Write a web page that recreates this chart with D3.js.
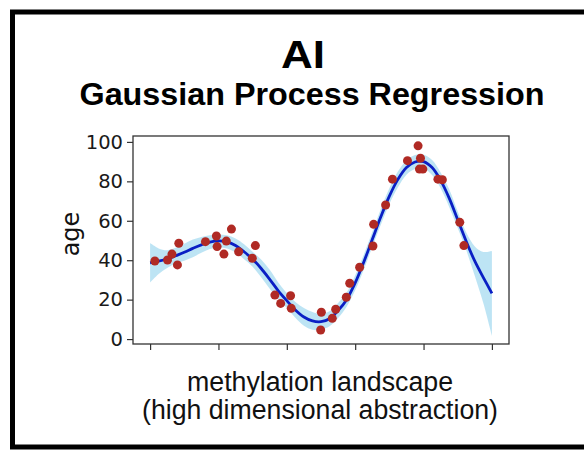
<!DOCTYPE html>
<html>
<head>
<meta charset="utf-8">
<script src="https://cdn.jsdelivr.net/npm/d3@7"></script>
<style>
  html, body { margin: 0; padding: 0; background: #ffffff; }
  svg { display: block; }
</style>
</head>
<body>
<svg id="chart" width="584" height="452"></svg>
<script>
// ---------- data ----------
const titleMain = "AI";
const titleSub = "Gaussian Process Regression";
const yLabel = "age";
const xLabelLines = ["methylation landscape", "(high dimensional abstraction)"];

const yTicks = [0, 20, 40, 60, 80, 100];
const xTicks = [0, 2, 4, 6, 8, 10];

// observed samples
const obsX = [0.14, 0.51, 0.64, 0.80, 0.84, 1.62, 1.94, 1.96, 2.16, 2.23, 2.38, 2.59, 2.99, 3.08,
              3.65, 3.82, 4.11, 4.13, 4.99, 5.01, 5.33, 5.43, 5.74, 5.84, 6.13,
              6.52, 6.54, 6.89, 7.09, 7.53, 7.84, 7.91, 7.88, 7.98, 8.42, 8.55, 9.06, 9.18];
const obsY = [39.6, 40.1, 43.1, 37.6, 48.6, 49.4, 52.3, 46.9, 43.1, 49.7, 55.8, 44.3, 41.0, 47.4,
              22.3, 18.1, 22.0, 15.6, 4.6, 13.6, 10.5, 15.1, 21.2, 28.3, 36.4,
              47.2, 58.2, 68.0, 81.1, 90.5, 98.0, 91.7, 86.2, 86.2, 81.1, 80.8, 59.2, 47.4];

// GP posterior (mean and confidence band) on a grid
const gridX = [0, 0.25, 0.5, 0.75, 1, 1.25, 1.5, 1.75, 2, 2.25, 2.5, 2.75, 3, 3.25, 3.5, 3.75, 4, 4.25, 4.5, 4.75,
               5, 5.25, 5.5, 5.75, 6, 6.25, 6.5, 6.75, 7, 7.25, 7.5, 7.75, 8, 8.25, 8.5, 8.75, 9, 9.25, 9.5, 9.75, 10];
const meanY = [38.7, 39.5, 40.6, 42.3, 44.0, 46.0, 47.8, 49.2, 49.8, 49.3, 47.5, 44.3, 40.5, 35.8, 30.3, 24.5, 19.5, 14.8, 11.2, 9.2,
               8.8, 10.3, 14.5, 20.0, 28.5, 39.0, 50.5, 62.0, 72.5, 81.0, 87.0, 89.8, 90.0, 87.0, 80.5, 71.5, 60.5, 49.5, 39.5, 31.2, 23.2];
const bandLo = [28.7, 33.0, 36.1, 38.3, 39.7, 41.5, 43.8, 45.7, 46.5, 46.0, 44.0, 40.5, 36.7, 31.3, 25.5, 20.3, 15.7, 10.8, 6.7, 4.7,
                4.8, 6.5, 10.7, 16.4, 24.7, 35.2, 46.7, 58.0, 68.5, 77.0, 83.4, 86.3, 86.5, 83.2, 76.5, 67.0, 56.3, 45.0, 32.0, 18.2, 1.7];
const bandHi = [48.7, 46.0, 45.1, 46.3, 48.3, 50.5, 51.8, 52.7, 53.1, 52.6, 51.0, 48.1, 44.3, 40.3, 35.1, 28.7, 23.3, 18.8, 15.7, 13.7,
                12.8, 14.1, 18.3, 23.6, 32.3, 42.8, 54.3, 66.0, 76.5, 85.0, 90.6, 93.3, 93.5, 90.8, 84.5, 76.0, 64.7, 54.0, 47.0, 44.2, 44.7];

// ---------- drawing ----------
const svg = d3.select("#chart");
const W = 584, H = 452;

// frame
svg.append("rect").attr("x", 0).attr("y", 0).attr("width", W).attr("height", H).attr("fill", "#ffffff");
svg.append("rect")
  .attr("x", 12.5).attr("y", 12).attr("width", 600).attr("height", 435)
  .attr("fill", "none").attr("stroke", "#000").attr("stroke-width", 5);

const plot = { left: 133, right: 509, top: 136, bottom: 344 };
const x = d3.scaleLinear().domain([-0.5, 10.5]).range([plot.left, plot.right]);
const y = d3.scaleLinear().domain([-2.5, 103]).range([plot.bottom, plot.top]);

const grid = gridX.map((gx, i) => ({ x: gx, m: meanY[i], lo: bandLo[i], hi: bandHi[i] }));

svg.append("clipPath").attr("id", "plotclip")
  .append("rect").attr("x", plot.left).attr("y", plot.top)
  .attr("width", plot.right - plot.left).attr("height", plot.bottom - plot.top);

const g = svg.append("g").attr("clip-path", "url(#plotclip)");

g.append("path")
  .datum(grid)
  .attr("fill", "#87ceeb")
  .attr("fill-opacity", 0.55)
  .attr("d", d3.area().curve(d3.curveCatmullRom.alpha(0.5))
    .x(d => x(d.x)).y0(d => y(d.lo)).y1(d => y(d.hi)));

g.append("path")
  .datum(grid)
  .attr("fill", "none")
  .attr("stroke", "#0a1fc4")
  .attr("stroke-width", 2.8)
  .attr("d", d3.line().curve(d3.curveCatmullRom.alpha(0.5)).x(d => x(d.x)).y(d => y(d.m)));

g.selectAll("circle.obs")
  .data(obsX.map((ox, i) => ({ x: ox, y: obsY[i] })))
  .join("circle")
  .attr("class", "obs")
  .attr("cx", d => x(d.x)).attr("cy", d => y(d.y))
  .attr("r", 4.5)
  .attr("fill", "#b02a24");

// axes
const yAxis = svg.append("g")
  .attr("transform", `translate(${plot.left},0)`)
  .call(d3.axisLeft(y).tickValues(yTicks).tickSize(6).tickPadding(4));
yAxis.select(".domain").remove();
yAxis.selectAll("text")
  .attr("font-family", "DejaVu Sans").attr("font-size", 19.5).attr("fill", "#1a1a1a");
yAxis.selectAll("line").attr("stroke", "#333").attr("stroke-width", 1.2);

const xAxis = svg.append("g")
  .attr("transform", `translate(0,${plot.bottom})`)
  .call(d3.axisBottom(x).tickValues(xTicks).tickSize(6).tickFormat(""));
xAxis.select(".domain").remove();
xAxis.selectAll("line").attr("stroke", "#333").attr("stroke-width", 1.2);

// spines
svg.append("rect")
  .attr("x", plot.left).attr("y", plot.top)
  .attr("width", plot.right - plot.left).attr("height", plot.bottom - plot.top)
  .attr("fill", "none").attr("stroke", "#333").attr("stroke-width", 1.3);

// titles
svg.append("text")
  .attr("x", 303).attr("y", 68)
  .attr("text-anchor", "middle")
  .attr("font-family", "Liberation Sans, Arial, sans-serif")
  .attr("font-weight", "bold").attr("font-size", 38)
  .attr("textLength", 44).attr("lengthAdjust", "spacingAndGlyphs")
  .text(titleMain);

svg.append("text")
  .attr("x", 312).attr("y", 105)
  .attr("text-anchor", "middle")
  .attr("font-family", "Liberation Sans, Arial, sans-serif")
  .attr("font-weight", "bold").attr("font-size", 32)
  .attr("textLength", 465).attr("lengthAdjust", "spacingAndGlyphs")
  .text(titleSub);

// y label
svg.append("text")
  .attr("transform", "translate(79,234) rotate(-90)")
  .attr("text-anchor", "middle")
  .attr("font-family", "DejaVu Sans")
  .attr("font-size", 24).attr("fill", "#111")
  .text(yLabel);

// x label
const xl = [{ t: xLabelLines[0], yy: 391, w: 266 }, { t: xLabelLines[1], yy: 419, w: 356 }];
svg.selectAll("text.xl").data(xl).join("text")
  .attr("class", "xl")
  .attr("x", 320).attr("y", d => d.yy)
  .attr("text-anchor", "middle")
  .attr("font-family", "Liberation Sans, Arial, sans-serif")
  .attr("font-size", 27).attr("fill", "#111")
  .attr("textLength", d => d.w).attr("lengthAdjust", "spacingAndGlyphs")
  .text(d => d.t);
</script>
</body>
</html>
